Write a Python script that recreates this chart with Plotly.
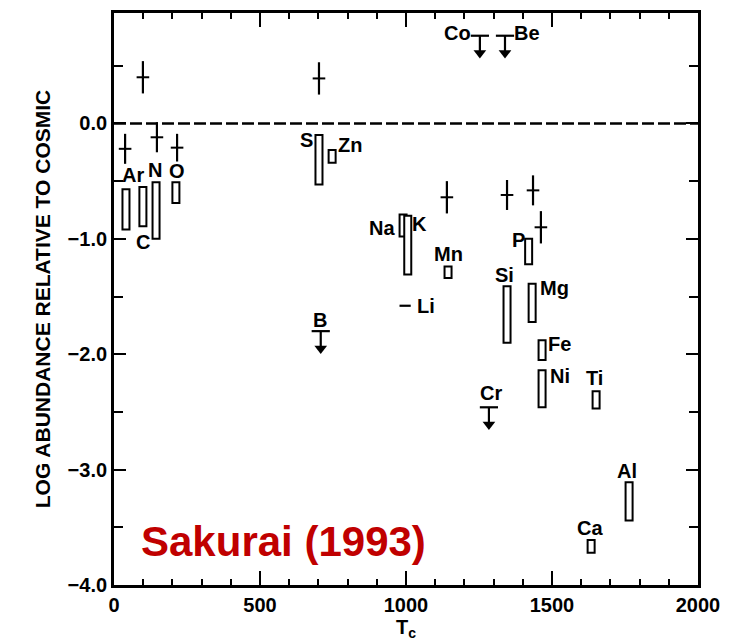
import plotly.graph_objects as go

# Measured ranges (boxes): element, condensation temperature, lower / upper log abundance
box_el = ["Ar", "C", "N", "O", "S", "Zn", "Na", "K", "Mn", "P", "Si", "Mg", "Fe", "Ni", "Ti", "Al", "Ca"]
box_tc = [41, 99, 144, 212, 702, 747, 990, 1006, 1144, 1420, 1346, 1432, 1466, 1466, 1651, 1764, 1634]
box_lo = [-0.92, -0.89, -1.00, -0.69, -0.53, -0.34, -0.98, -1.31, -1.34, -1.22, -1.90, -1.72, -2.05, -2.46, -2.47, -3.44, -3.72]
box_hi = [-0.57, -0.55, -0.51, -0.51, -0.10, -0.23, -0.79, -0.80, -1.24, -1.00, -1.41, -1.39, -1.88, -2.14, -2.32, -3.11, -3.61]

# Single values with error bars
pt_tc = [38, 99, 147, 216, 702, 1140, 1346, 1435, 1462]
pt_val = [-0.22, 0.40, -0.12, -0.21, 0.39, -0.64, -0.62, -0.58, -0.90]
pt_err = [0.13, 0.14, 0.13, 0.12, 0.14, 0.14, 0.13, 0.13, 0.14]

# Upper limits
lim_el = ["Co", "Be", "B", "Cr"]
lim_tc = [1253, 1339, 708, 1284]
lim_val = [0.76, 0.76, -1.80, -2.46]
lim_len = 0.15

# Lithium point
li_tc = [997]
li_val = [-1.58]

# Element label anchors
lab_text = ["Ar", "C", "N", "O", "S", "Zn", "Na", "K", "Mn", "Li", "B", "P", "Si", "Mg",
            "Fe", "Ni", "Ti", "Cr", "Al", "Ca", "Co", "Be"]
lab_tc = [65, 99, 140, 216, 658, 808, 918, 1045, 1144, 1068, 705, 1384, 1339, 1510,
          1527, 1527, 1644, 1291, 1757, 1630, 1175, 1414]
lab_val = [-0.45, -1.03, -0.40, -0.41, -0.14, -0.19, -0.91, -0.87, -1.13, -1.58, -1.70, -1.01, -1.31, -1.43,
           -1.91, -2.19, -2.21, -2.34, -3.01, -3.51, 0.78, 0.78]

x_ticks = [0, 500, 1000, 1500, 2000]
y_ticks = [0.0, -1.0, -2.0, -3.0, -4.0]

FONT = "Liberation Sans, Arial, sans-serif"
INK = "black"

fig = go.Figure()

fig.add_trace(go.Bar(
    x=box_tc, y=[h - l for h, l in zip(box_hi, box_lo)], base=box_lo, width=24,
    marker=dict(color="white", line=dict(color=INK, width=2)),
    hoverinfo="skip", showlegend=False,
))

fig.add_trace(go.Scatter(
    x=pt_tc, y=pt_val, mode="markers",
    marker=dict(symbol="line-ew", size=9, line=dict(color=INK, width=2)),
    error_y=dict(type="data", array=pt_err, width=0, thickness=2.2, color=INK),
    showlegend=False,
))

# Upper limits: bar at the limit with a shaft running down
fig.add_trace(go.Scatter(
    x=lim_tc, y=lim_val, mode="markers",
    marker=dict(symbol="line-ew", size=13, line=dict(color=INK, width=2.2)),
    error_y=dict(type="data", symmetric=False, array=[0] * len(lim_val),
                 arrayminus=[lim_len] * len(lim_val), width=0, thickness=2.2, color=INK),
    showlegend=False,
))
# ...ending in a solid arrowhead
fig.add_trace(go.Scatter(
    x=lim_tc, y=[v - lim_len for v in lim_val], mode="markers",
    marker=dict(symbol="triangle-down", size=11, color=INK, line=dict(width=0)),
    showlegend=False,
))

fig.add_trace(go.Scatter(
    x=li_tc, y=li_val, mode="markers",
    marker=dict(symbol="line-ew", size=8, line=dict(color=INK, width=2.2)),
    showlegend=False,
))

annotations = []
for t, tc, v in zip(lab_text, lab_tc, lab_val):
    annotations.append(dict(
        x=tc, y=v, xref="x", yref="y", text=t, showarrow=False,
        font=dict(family=FONT, size=20, color=INK, weight="bold"), xanchor="center", yanchor="middle",
    ))
annotations.append(dict(
    x=580, y=-3.62, xref="x", yref="y", text="<b>Sakurai (1993)</b>", showarrow=False,
    font=dict(family=FONT, size=42, color="#C00000"), xanchor="center", yanchor="middle",
))

# Cosmic reference level
fig.add_shape(type="line", x0=0, x1=2000, y0=0, y1=0, xref="x", yref="y",
              line=dict(color=INK, width=2.5, dash="12px,4px"))

fig.update_layout(
    width=733, height=643,
    margin=dict(l=114, r=35, t=10, b=58),
    paper_bgcolor="white", plot_bgcolor="white",
    barmode="overlay",
    annotations=annotations,
    font=dict(family=FONT, color=INK),
    showlegend=False,
)

fig.update_xaxes(
    range=[0, 2000], showgrid=False, zeroline=False,
    showline=True, linewidth=2.8, linecolor=INK, mirror="ticks",
    ticks="inside", ticklen=14, tickwidth=2, tickcolor=INK,
    tickvals=x_ticks, ticktext=[str(v) for v in x_ticks],
    tickfont=dict(family=FONT, size=20, color=INK, weight="bold"),
    minor=dict(dtick=100, ticks="inside", ticklen=6, tickwidth=1.5, tickcolor=INK),
    title=dict(text="T<sub>c</sub>", font=dict(family=FONT, size=20, color=INK, weight="bold"), standoff=3),
)

fig.update_yaxes(
    range=[-4.0, 0.957], showgrid=False, zeroline=False,
    showline=True, linewidth=2.8, linecolor=INK, mirror="ticks",
    ticks="inside", ticklen=12, tickwidth=2, tickcolor=INK,
    tickvals=y_ticks, ticktext=[("\u2212" if v < 0 else "") + f"{abs(v):.1f}" for v in y_ticks],
    tickfont=dict(family=FONT, size=20, color=INK, weight="bold"),
    minor=dict(dtick=0.5, ticks="inside", ticklen=9, tickwidth=1.5, tickcolor=INK),
    title=dict(text="LOG ABUNDANCE RELATIVE TO COSMIC",
               font=dict(family=FONT, size=21, color=INK, weight="bold"), standoff=12),
)

fig.write_html("out.html")
